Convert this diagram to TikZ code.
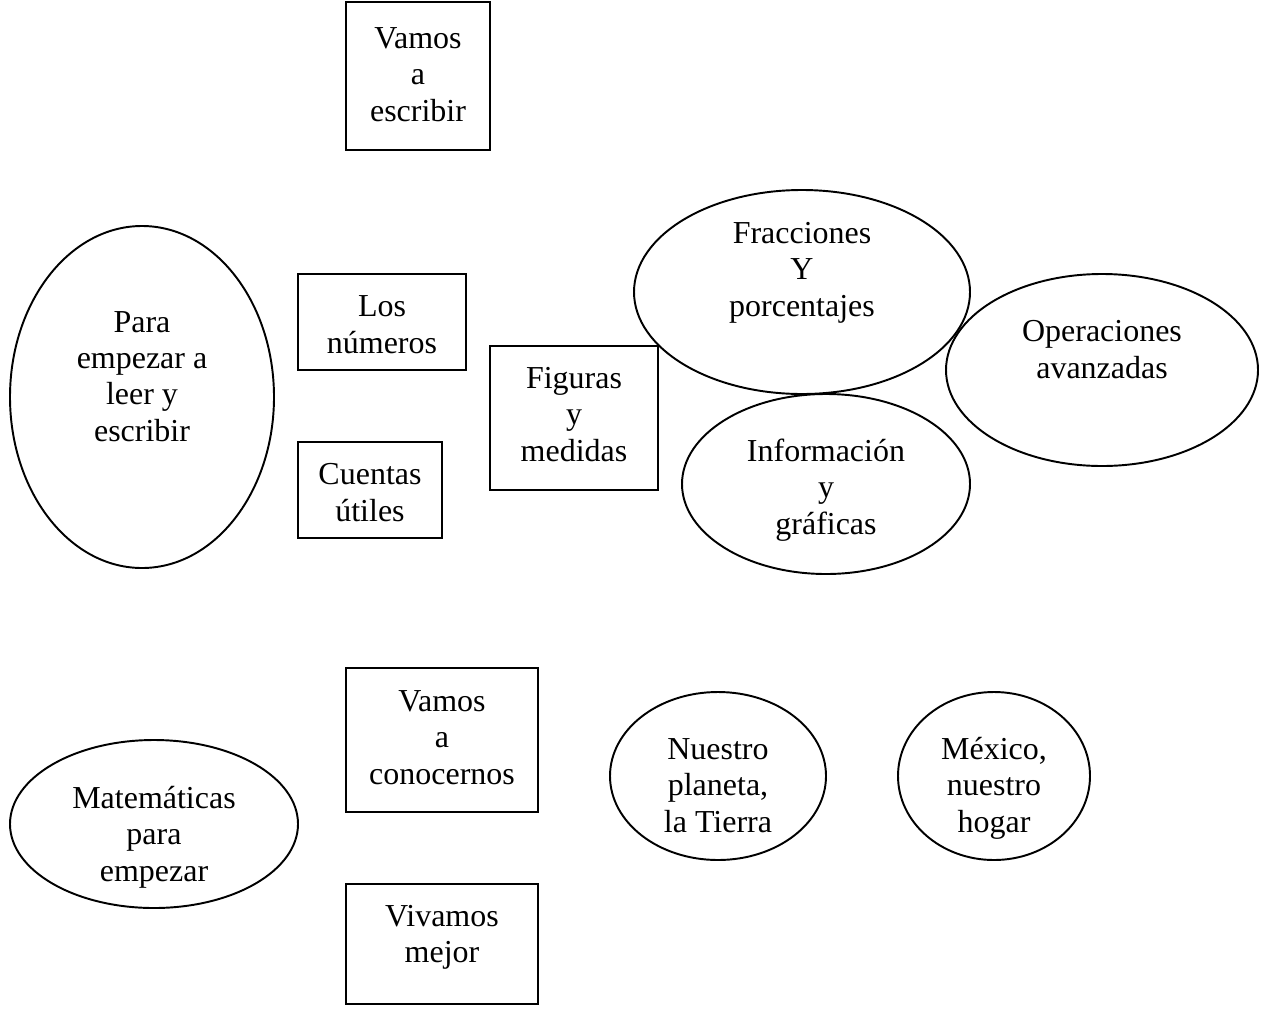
\documentclass[tikz,border=0pt]{standalone}
\usepackage{fontspec}
\setmainfont{Liberation Serif}
\usepackage{tikz}
\usetikzlibrary{shapes,positioning,calc}
\newdimen\px \px=0.02cm

\tikzset{
  box/.style={draw, line width=1.1pt, rectangle, inner sep=0pt, outer sep=0pt},
  oval/.style={draw, line width=1.1pt, ellipse, inner sep=0pt, outer sep=0pt},
  txt/.style={align=center, inner sep=0pt, anchor=base, font=\fontsize{18.2}{20.5}\selectfont}
}

\begin{document}
\begin{tikzpicture}[x=0.02cm, y=-0.02cm]
	\useasboundingbox (0,0) rectangle (1266,1014);
	% upper group
	\node[box, minimum width=144\px, minimum height=148\px] (escribir) at (418,76) {};
	\node[txt] (escribir-t) at (418,121) {Vamos\\a\\escribir};
	\node[oval, minimum width=264\px, minimum height=342\px] (leer) at (142,397) {};
	\node[txt] (leer-t) at (142,441) {Para\\empezar a\\leer y\\escribir};
	\node[box, minimum width=168\px, minimum height=96\px] (numeros) at (382,322) {};
	\node[txt] (numeros-t) at (382,353) {Los\\números};
	\node[box, minimum width=144\px, minimum height=96\px] (cuentas) at (370,490) {};
	\node[txt] (cuentas-t) at (370,521) {Cuentas\\útiles};
	\node[box, minimum width=168\px, minimum height=144\px] (figuras) at (574,418) {};
	\node[txt] (figuras-t) at (574,461) {Figuras\\y\\medidas};
	\node[oval, minimum width=336\px, minimum height=204\px] (fracciones) at (802,292) {};
	\node[txt] (fracciones-t) at (802,316) {Fracciones\\Y\\porcentajes};
	\node[oval, minimum width=312\px, minimum height=192\px] (operaciones) at (1102,370) {};
	\node[txt] (operaciones-t) at (1102,378) {Operaciones\\avanzadas};
	\node[oval, minimum width=288\px, minimum height=180\px] (informacion) at (826,484) {};
	\node[txt] (informacion-t) at (826,534) {Información\\y\\gráficas};
	% lower group
	\node[box, minimum width=192\px, minimum height=144\px] (conocernos) at (442,740) {};
	\node[txt] (conocernos-t) at (442,784) {Vamos\\a\\conocernos};
	\node[oval, minimum width=288\px, minimum height=168\px] (matematicas) at (154,824) {};
	\node[txt] (matematicas-t) at (154,881) {Matemáticas\\para\\empezar};
	\node[oval, minimum width=216\px, minimum height=168\px] (planeta) at (718,776) {};
	\node[txt] (planeta-t) at (718,832) {Nuestro\\planeta,\\la Tierra};
	\node[oval, minimum width=192\px, minimum height=168\px] (mexico) at (994,776) {};
	\node[txt] (mexico-t) at (994,832) {México,\\nuestro\\hogar};
	\node[box, minimum width=192\px, minimum height=120\px] (vivamos) at (442,944) {};
	\node[txt] (vivamos-t) at (442,962) {Vivamos\\mejor};
\end{tikzpicture}
\end{document}
